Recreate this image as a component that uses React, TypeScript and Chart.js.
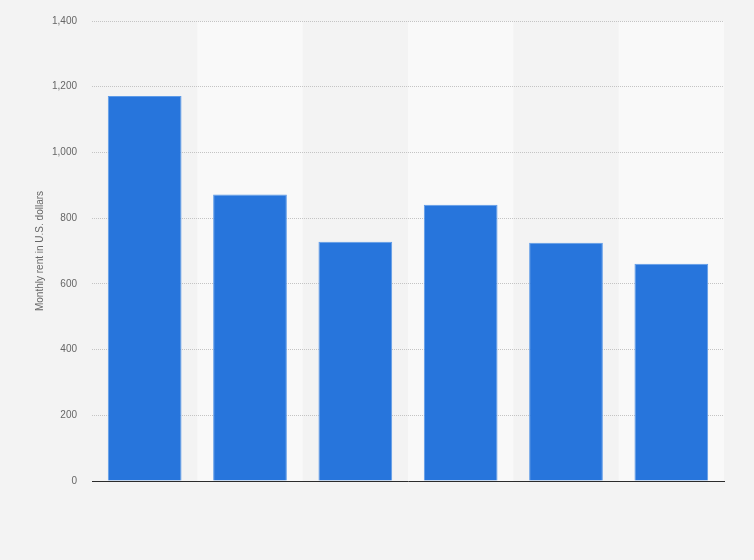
import { useEffect, useRef } from 'react'
import { Chart, registerables } from 'chart.js'

Chart.register(...registerables)

const categories = ['A', 'B', 'C', 'D', 'E', 'F']
const rentValues = [1172, 872, 728, 841, 725, 661]
const yTicks = [0, 200, 400, 600, 800, 1000, 1200, 1400]

// alternating lighter column bands behind the bars
const bandPlugin = {
  id: 'bands',
  beforeDraw(chart: any) {
    const { ctx, chartArea, scales } = chart
    const x = scales.x
    const step = chartArea.width / categories.length
    ctx.save()
    ctx.fillStyle = '#f9f9f9'
    categories.forEach((_, i) => {
      if (i % 2 === 1) {
        const cx = x.getPixelForValue(i)
        ctx.fillRect(cx - step / 2, chartArea.top, step, chartArea.height)
      }
    })
    ctx.restore()
  }
}

export default function App() {
  const chartRef = useRef<HTMLCanvasElement>(null)
  const chartInstance = useRef<Chart | null>(null)

  useEffect(() => {
    document.body.style.margin = '0'
    if (!chartRef.current) return
    if (chartInstance.current) chartInstance.current.destroy()

    chartInstance.current = new Chart(chartRef.current, {
      type: 'bar',
      data: {
        labels: categories,
        datasets: [
          {
            label: 'Monthly rent in U.S. dollars',
            data: rentValues,
            backgroundColor: '#2775dc',
            borderColor: '#5e9be8',
            borderWidth: 1,
            borderSkipped: 'bottom',
            categoryPercentage: 0.7,
            barPercentage: 1
          }
        ]
      },
      options: {
        animation: false,
        responsive: false,
        layout: { padding: { left: 30, right: 30, top: 19, bottom: 0 } },
        plugins: {
          legend: { display: false },
          tooltip: { enabled: true }
        },
        scales: {
          x: {
            ticks: { display: false },
            grid: { display: false },
            border: { display: true, color: '#2b2b2b', width: 1 },
            afterFit: (scale: any) => {
              scale.height = 79
            }
          },
          y: {
            min: 0,
            max: 1400,
            afterBuildTicks: (scale: any) => {
              scale.ticks = yTicks.map((v) => ({ value: v }))
            },
            ticks: {
              padding: 15,
              color: '#666666',
              font: { family: 'Arial, "Liberation Sans", sans-serif', size: 10 },
              callback: (v: any) => Number(v).toLocaleString('en-US')
            },
            grid: {
              color: (c: any) => (c.tick && c.tick.value === 0 ? 'rgba(0,0,0,0)' : '#c4c4c4'),
              drawTicks: false,
              lineWidth: 1
            },
            border: { display: false, dash: [1, 1] },
            title: {
              display: true,
              text: 'Monthly rent in U.S. dollars',
              color: '#666666',
              padding: { top: 4, bottom: 0 },
              font: { family: 'Arial, "Liberation Sans", sans-serif', size: 10 }
            },
            afterFit: (scale: any) => {
              scale.width = 62
            }
          }
        }
      },
      plugins: [bandPlugin]
    })

    return () => {
      if (chartInstance.current) {
        chartInstance.current.destroy()
        chartInstance.current = null
      }
    }
  }, [])

  return (
    <div style={{ width: 754, height: 560, background: '#f3f3f3' }}>
      <canvas ref={chartRef} width={754} height={560} />
    </div>
  )
}
